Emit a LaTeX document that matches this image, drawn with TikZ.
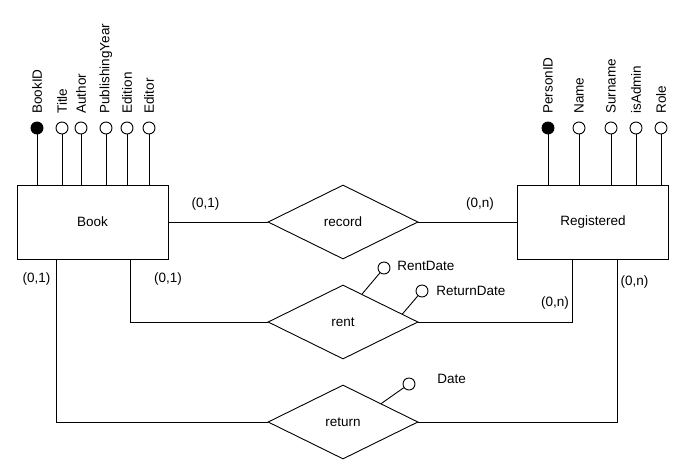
\documentclass[tikz,border=0pt]{standalone}
\usepackage{fontspec}
\setmainfont{Liberation Sans}
\usetikzlibrary{shapes.geometric,calc}

\tikzset{
  every node/.style={font=\fontsize{13.5}{16}\selectfont},
  entity/.style={draw,rectangle,minimum width=151pt,minimum height=74pt,inner sep=0pt},
  relation/.style={draw,diamond,aspect=2.03,minimum width=150pt,minimum height=74pt,inner sep=0pt},
  attr/.style={draw,circle,fill=white,minimum size=12pt,inner sep=0pt},
  keyattr/.style={attr,fill=black},
  attrname/.style={rotate=90,anchor=west,inner sep=0pt},
  sidename/.style={anchor=west,inner sep=0pt},
}

\begin{document}
\begin{tikzpicture}[x=1pt,y=-1pt,line width=0.9pt]
    \useasboundingbox (0,0) rectangle (695,469);

    \node[entity] (book) at (92.5,222) {Book};
    \node[entity] (reg) at (593,222) {Registered};
    \node[relation] (record) at (343,222) {record};
    \node[relation] (rent) at (343,322) {rent};
    \node[relation] (ret) at (343,422) {return};

    % attributes above the entities
    \foreach \x/\name/\txt/\kind in {37/bookid/BookID/keyattr, 62/title/Title/attr,
        81/author/Author/attr, 106/pubyear/PublishingYear/attr, 127/edition/Edition/attr,
        149/editor/Editor/attr} {
        \node[\kind] (\name) at (\x,128) {};
        \node[attrname] (\name-t) at (\x,114) {\txt};
        \draw (\name) -- (\name |- book.north);
    }
    \foreach \x/\name/\txt/\kind in {548/personid/PersonID/keyattr, 579/pname/Name/attr,
        611/surname/Surname/attr, 636/isadmin/isAdmin/attr, 661/role/Role/attr} {
        \node[\kind] (\name) at (\x,128) {};
        \node[attrname] (\name-t) at (\x,114) {\txt};
        \draw (\name) -- (\name |- reg.north);
    }

    % attributes of the relations
    \coordinate (rd) at ($(rent.north)!0.253!(rent.east)$);
    \coordinate (rtd) at ($(rent.north)!0.787!(rent.east)$);
    \coordinate (dt) at ($(ret.north)!0.507!(ret.east)$);
    \node[attr] (rentdate) at (384,268) {};
    \node[attr] (returndate) at (422,291) {};
    \node[attr] (date) at (409,384) {};
    \node[sidename] (rentdate-t) at (397,266) {RentDate};
    \node[sidename] (returndate-t) at (436,291) {ReturnDate};
    \node[sidename] (date-t) at (437,379) {Date};
    \draw (rd) -- (rentdate);
    \draw (rtd) -- (returndate);
    \draw (dt) -- (date);

    % connections
    \draw (book) -- (record) -- (reg);
    \draw ([xshift=37.5pt]book.south) |- (rent.west);
    \draw ([xshift=-21pt]reg.south) |- (rent.east);
    \draw ([xshift=-36.5pt]book.south) |- (ret.west);
    \draw ([xshift=24pt]reg.south) |- (ret.east);

    % cardinalities
    \node (c1) at (205.5,204) {(0,1)};
    \node (c2) at (480,204) {(0,n)};
    \node (c3) at (36.5,279) {(0,1)};
    \node (c4) at (168,279) {(0,1)};
    \node (c5) at (555,303) {(0,n)};
    \node (c6) at (634.5,282) {(0,n)};
\end{tikzpicture}
\end{document}
